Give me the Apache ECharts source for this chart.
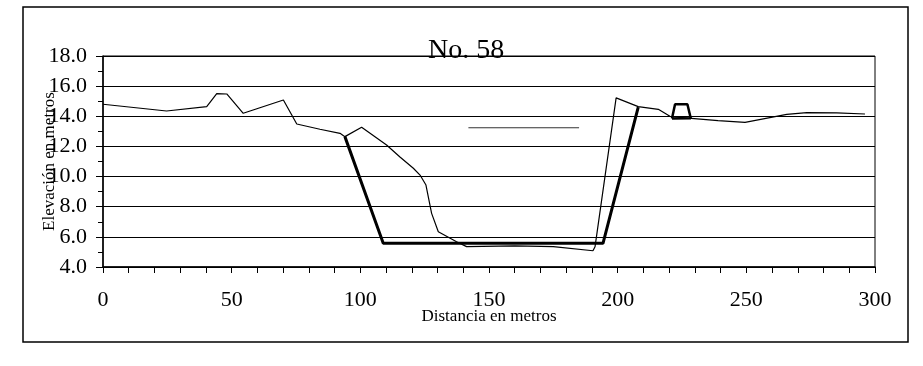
<!DOCTYPE html>
<html><head><meta charset="utf-8">
<script src="https://cdn.jsdelivr.net/npm/echarts@6/dist/echarts.min.js"></script>
<style>html,body{margin:0;padding:0;background:#fff}#c{width:923px;height:366px}</style>
</head><body><div id="c"></div>
<script>
// Existing ground profile (thin line)
const groundDist = [0, 24.7, 40.3, 44.2, 48.1, 54.5, 70.1, 75.3, 84.3, 92.1, 94.0, 100.5, 110.2, 115.4, 120.6, 123.2, 125.5, 127.7, 130.3, 137.4, 141.3, 160, 175, 190.4, 191.2, 199.4, 208.0, 215.8, 220.3, 224, 239, 249.5, 265.7, 273.5, 285.1, 296.1];
const groundElev = [14.8, 14.35, 14.64, 15.5, 15.48, 14.2, 15.08, 13.49, 13.14, 12.87, 12.65, 13.27, 12.09, 11.3, 10.55, 10.1, 9.44, 7.56, 6.34, 5.68, 5.35, 5.4, 5.35, 5.08, 5.34, 15.22, 14.64, 14.46, 14.0, 13.93, 13.71, 13.6, 14.13, 14.24, 14.22, 14.15];
// Design channel section (thick line)
const canalDist = [94.0, 108.9, 194.3, 208.0];
const canalElev = [12.65, 5.57, 5.57, 14.6];
// Levee (thick trapezoid)
const leveeDist = [221.1, 222.3, 227.1, 228.4, 221.1];
const leveeElev = [13.85, 14.8, 14.8, 13.87, 13.85];
// Water level line
const waterDist = [142, 185];
const waterElev = [13.24, 13.24];
// Axis ticks
const xLabelValues = [0, 50, 100, 150, 200, 250, 300];
const yTickValues = [4, 6, 8, 10, 12, 14, 16, 18];

const zip = (a, b) => a.map((v, i) => [v, b[i]]);
const serif = '"Liberation Serif", "DejaVu Serif", serif';

const chart = echarts.init(document.getElementById('c'), null, {renderer: 'canvas'});
chart.setOption({
  animation: false,
  backgroundColor: '#fff',
  title: {
    text: 'No. 58', left: 423, top: 32,
    textStyle: {fontFamily: serif, fontSize: 28, fontWeight: 'normal', color: '#000'}
  },
  graphic: [{
    type: 'rect', shape: {x: 23, y: 7, width: 885, height: 335},
    style: {fill: null, stroke: '#000', lineWidth: 1.5}, z: 100
  }],
  grid: {left: 103, right: 48, top: 56, bottom: 99, show: true, borderColor: '#000', borderWidth: 1, backgroundColor: 'transparent'},
  xAxis: {
    type: 'value', min: 0, max: 300, interval: 10,
    name: 'Distancia en metros', nameLocation: 'middle', nameGap: 41,
    nameMoveOverlap: false,
    nameTextStyle: {fontFamily: serif, fontSize: 17, color: '#000'},
    axisLine: {show: true, onZero: false, lineStyle: {color: '#000', width: 1.5}},
    axisTick: {show: true, length: 6, lineStyle: {color: '#000'}},
    axisLabel: {
      fontFamily: serif, fontSize: 22, color: '#000', margin: 22,
      formatter: v => xLabelValues.includes(v) ? String(v) : ''
    },
    splitLine: {show: false}
  },
  yAxis: {
    type: 'value', min: 4, max: 18, interval: 2,
    name: 'Elevación en metros', nameLocation: 'middle', nameGap: 45, nameRotate: 90,
    nameMoveOverlap: false,
    nameTextStyle: {fontFamily: serif, fontSize: 17, color: '#000', backgroundColor: '#fff', padding: [0, 0, 0, 0]},
    axisLine: {show: true, lineStyle: {color: '#000', width: 1.5}},
    axisTick: {show: true, length: 7, lineStyle: {color: '#000'}},
    minorTick: {show: true, splitNumber: 2, length: 5, lineStyle: {color: '#000'}},
    axisLabel: {
      fontFamily: serif, fontSize: 22, color: '#000', margin: 16,
      formatter: v => yTickValues.includes(v) ? v.toFixed(1) : ''
    },
    splitLine: {show: true, lineStyle: {color: '#000', width: 1}}
  },
  series: [
    {type: 'line', data: zip(groundDist, groundElev), symbol: 'none', lineStyle: {color: '#000', width: 1.2}, z: 3},
    {type: 'line', data: zip(canalDist, canalElev), symbol: 'none', lineStyle: {color: '#000', width: 3}, z: 4},
    {type: 'line', data: zip(leveeDist, leveeElev), symbol: 'none', lineStyle: {color: '#000', width: 2.5}, z: 4},
    {type: 'line', data: zip(waterDist, waterElev), symbol: 'none', lineStyle: {color: '#333', width: 1.2}, z: 3}
  ]
});
</script></body></html>
